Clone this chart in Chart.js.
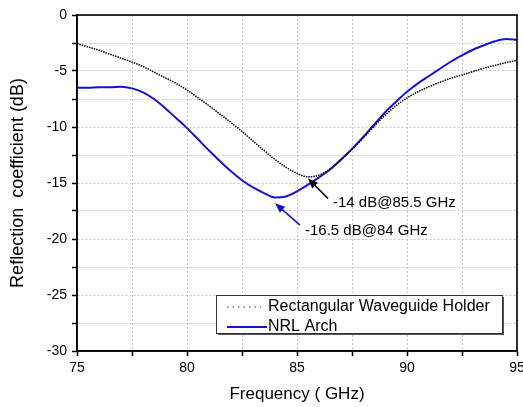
<!DOCTYPE html>
<html>
<head>
<meta charset="utf-8">
<script src="https://cdn.jsdelivr.net/npm/chart.js@4.4.0/dist/chart.umd.min.js"></script>
<style>
  html, body { margin: 0; padding: 0; background: #fff; }
  #wrap { width: 523px; height: 407px; }
</style>
</head>
<body>
<div id="wrap"><canvas id="myChart" width="523" height="407"></canvas></div>
<script>
// frequency points (GHz)
let freq = [75, 75.5, 76, 76.5, 77, 77.5, 78, 78.5, 79, 79.5,
            80, 80.5, 81, 81.5, 82, 82.5, 83, 83.5, 84, 84.5,
            85, 85.5, 86, 86.5, 87, 87.5, 88, 88.5, 89, 89.5,
            90, 90.5, 91, 91.5, 92, 92.5, 93, 93.5, 94, 94.5, 95];

// Rectangular Waveguide Holder (dB)
let rwh_db = [-2.55, -2.85, -3.15, -3.5, -3.85, -4.2, -4.6, -5.1, -5.6, -6.1,
              -6.7, -7.4, -8.1, -8.85, -9.6, -10.4, -11.25, -12.1, -12.9, -13.6,
              -14.15, -14.45, -14.3, -13.75, -12.95, -12.0, -11.0, -9.95, -8.95, -8.1,
              -7.4, -6.85, -6.4, -6.0, -5.65, -5.35, -5.05, -4.75, -4.5, -4.25, -4.05];

// NRL Arch (dB)
let nrl_db = [-6.5, -6.5, -6.45, -6.45, -6.4, -6.55, -6.9, -7.5, -8.3, -9.2,
              -10.1, -11.1, -12.1, -13.05, -13.95, -14.75, -15.4, -15.9, -16.3, -16.2,
              -15.75, -15.15, -14.5, -13.8, -12.9, -11.95, -10.9, -9.8, -8.7, -7.75,
              -6.85, -6.1, -5.45, -4.8, -4.15, -3.6, -3.1, -2.7, -2.35, -2.15, -2.2];

let series_names = ['Rectangular Waveguide Holder', 'NRL Arch'];

// annotation arrows: where they point, and what they say
let note_freq = [85.5, 84];
let note_db = [-14.6, -16.8];
let note_text = ['-14 dB@85.5 GHz', '-16.5 dB@84 GHz'];

const FONT = '"Liberation Sans", Arial, sans-serif';
const BLUE = '#1414d2';

function pts(ys) {
      return freq.map((f, i) => ({x: f, y: ys[i]}));
}

function arrow(ctx, x1, y1, x2, y2, color) {
      let ang = Math.atan2(y2 - y1, x2 - x1);
      ctx.strokeStyle = color;
      ctx.fillStyle = color;
      ctx.lineWidth = 1.6;
      ctx.beginPath();
      ctx.moveTo(x1, y1);
      ctx.lineTo(x2 - 6 * Math.cos(ang), y2 - 6 * Math.sin(ang));
      ctx.stroke();
      ctx.beginPath();
      ctx.moveTo(x2, y2);
      ctx.lineTo(x2 - 10 * Math.cos(ang) + 4 * Math.sin(ang), y2 - 10 * Math.sin(ang) - 4 * Math.cos(ang));
      ctx.lineTo(x2 - 10 * Math.cos(ang) - 4 * Math.sin(ang), y2 - 10 * Math.sin(ang) + 4 * Math.cos(ang));
      ctx.closePath();
      ctx.fill();
}

let extras = {
      id: 'extras',
      beforeDraw(chart) {
            let ctx = chart.ctx;
            ctx.save();
            ctx.fillStyle = '#fff';
            ctx.fillRect(0, 0, chart.width, chart.height);
            ctx.restore();
      },
      afterDraw(chart) {
            let ctx = chart.ctx;
            let a = chart.chartArea;
            let xs = chart.scales.x, ys = chart.scales.y;
            ctx.save();

            // frame round the plot
            ctx.strokeStyle = '#000';
            ctx.lineWidth = 1.6;
            ctx.strokeRect(a.left, a.top, a.right - a.left, a.bottom - a.top);

            // annotations
            let tails = [[20, 20], [25, 22]];
            let texts = [[25, 24], [30, 28]];
            let colors = ['#000', BLUE];
            ctx.font = '15px ' + FONT;
            ctx.textBaseline = 'middle';
            ctx.textAlign = 'left';
            for (let i = 0; i < note_freq.length; i++) {
                  let tx = xs.getPixelForValue(note_freq[i]);
                  let ty = ys.getPixelForValue(note_db[i]);
                  arrow(ctx, tx + tails[i][0], ty + tails[i][1], tx, ty, colors[i]);
                  ctx.fillStyle = '#000';
                  ctx.fillText(note_text[i], tx + texts[i][0], ty + texts[i][1]);
            }

            // legend box
            let right = a.right - 15, bottom = a.bottom - 18;
            let w = 286, h = 38;
            let left = right - w, top = bottom - h;
            ctx.fillStyle = '#555';
            ctx.fillRect(left + 2, top + 2, w, h);
            ctx.fillStyle = '#fff';
            ctx.fillRect(left, top, w, h);
            ctx.strokeStyle = '#333';
            ctx.lineWidth = 1;
            ctx.strokeRect(left + 0.5, top + 0.5, w, h);

            let ds = chart.data.datasets;
            // dotted sample
            ctx.strokeStyle = '#777';
            ctx.lineWidth = 1.5;
            ctx.setLineDash([1.5, 4]);
            ctx.beginPath();
            ctx.moveTo(left + 11, top + 12);
            ctx.lineTo(left + 45, top + 12);
            ctx.stroke();
            ctx.setLineDash([]);
            // solid sample
            ctx.strokeStyle = ds[1].borderColor;
            ctx.lineWidth = 2;
            ctx.beginPath();
            ctx.moveTo(left + 11, top + 32);
            ctx.lineTo(left + 51, top + 32);
            ctx.stroke();

            ctx.fillStyle = '#000';
            ctx.font = '16px ' + FONT;
            ctx.fillText(ds[0].label, left + 52, top + 12);
            ctx.fillText(ds[1].label, left + 52, top + 32);
            ctx.restore();
      }
};

let ctx = document.getElementById('myChart').getContext('2d');
let myChart = new Chart(ctx, {
      type: 'line',
      data: {
            datasets: [{
                  label: series_names[0],
                  data: pts(rwh_db),
                  borderColor: '#000',
                  borderWidth: 1.5,
                  borderDash: [1.5, 1],
                  pointRadius: 0,
                  tension: 0.4,
                  cubicInterpolationMode: 'monotone'
            }, {
                  label: series_names[1],
                  data: pts(nrl_db),
                  borderColor: BLUE,
                  borderWidth: 2,
                  pointRadius: 0,
                  tension: 0.4,
                  cubicInterpolationMode: 'monotone'
            }]
      },
      options: {
            responsive: false,
            animation: false,
            layout: { padding: { left: 0, right: 6, top: 15, bottom: 0 } },
            plugins: {
                  legend: { display: false },
                  tooltip: { enabled: false }
            },
            scales: {
                  x: {
                        type: 'linear',
                        min: 75,
                        max: 95,
                        afterFit: (s) => { s.height = 56; s.paddingLeft = 0; s.paddingRight = 0; },
                        ticks: {
                              stepSize: 2.5,
                              color: '#000',
                              padding: 4,
                              font: { family: FONT, size: 14 },
                              callback: (v) => (v % 5 === 0 ? v : '')
                        },
                        grid: {
                              color: '#c4c4c4',
                              lineWidth: 1,
                              tickColor: '#000',
                              tickLength: 5,
                              tickWidth: 1.5
                        },
                        border: { color: '#000', width: 1.6, dash: [2, 2] },
                        title: {
                              display: true,
                              text: 'Frequency ( GHz)',
                              color: '#000',
                              font: { family: FONT, size: 17 },
                              padding: { top: 0, bottom: 2 }
                        }
                  },
                  y: {
                        min: -30,
                        max: 0,
                        afterFit: (s) => { s.width = 77; },
                        ticks: {
                              stepSize: 2.5,
                              color: '#000',
                              padding: 5,
                              font: { family: FONT, size: 14 },
                              callback: (v) => (v % 5 === 0 ? v : '')
                        },
                        grid: {
                              color: '#c4c4c4',
                              lineWidth: 1,
                              tickColor: '#000',
                              tickLength: 5,
                              tickWidth: 1.5
                        },
                        border: { color: '#000', width: 1.6, dash: [2, 2] },
                        title: {
                              display: true,
                              text: 'Reflection  coefficient (dB)',
                              color: '#000',
                              font: { family: FONT, size: 18 },
                              padding: { top: 7, bottom: 0 }
                        }
                  }
            }
      },
      plugins: [extras]
});
</script>
</body>
</html>
